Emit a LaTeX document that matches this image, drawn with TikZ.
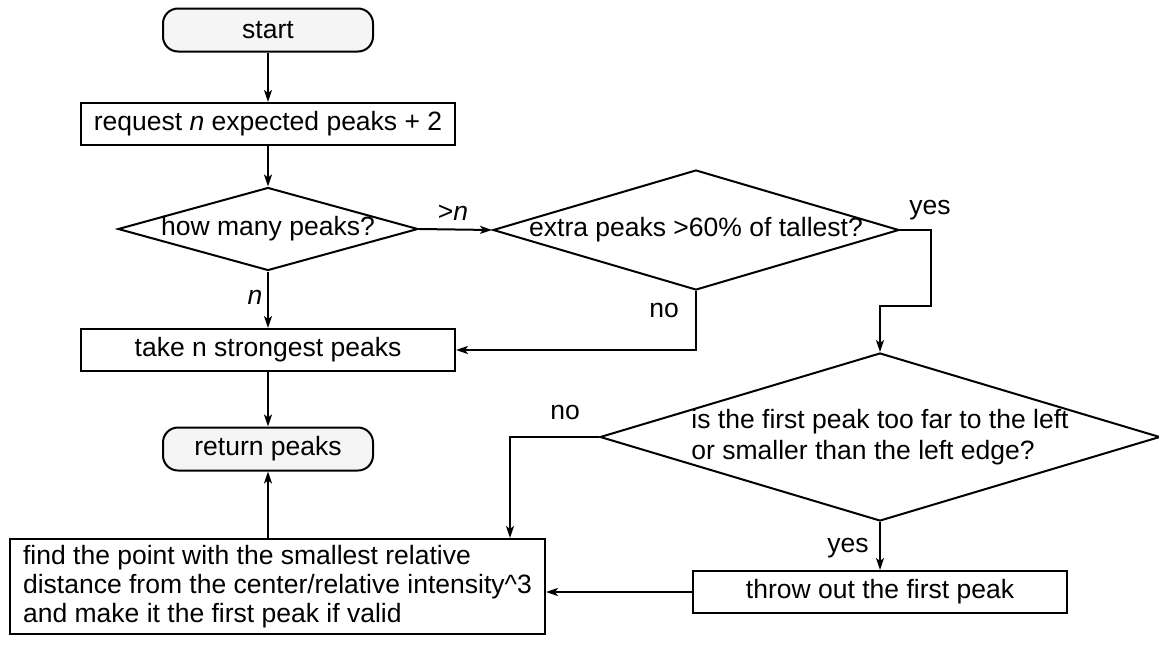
\documentclass[tikz,border=0pt]{standalone}
\usepackage{fontspec}
\setmainfont{Liberation Sans}
\usetikzlibrary{
  arrows.meta,
  positioning,
  shapes.geometric
}

\begin{document}
\begin{tikzpicture}[x=1pt,y=-1pt,
  >={Stealth[length=12pt,width=8pt,inset=3pt]},
  line width=2pt,
  font=\fontsize{26.5}{31.5}\selectfont,
  terminal/.style={draw,rounded corners=15pt,fill=gray!8,
    minimum width=210pt,minimum height=43pt,inner sep=0pt},
  procbox/.style={draw,minimum width=374pt,minimum height=42pt,inner sep=0pt},
  decision/.style={draw,diamond,inner sep=0pt}]
  % Fix the size of the whole picture.
  \useasboundingbox (0,0) rectangle (1159,648);

  % The start and the first request, in the left column.
  \node [terminal] (start) at (268,30) {start};
  \node [procbox] (request) at (268,124) {request \textit{n} expected peaks + 2};

  % The first question, and the one to its right. The text is
  % put in as a label, so that the diamond keeps its own size.
  \node [decision,minimum width=300pt,minimum height=83pt,
    label=center:{how many peaks?}] (count) at (268,229) {};
  \node [decision,minimum width=406pt,minimum height=120pt,
    label=center:{extra peaks >60\% of tallest?}] (extra) at (696,230) {};

  % Keep the strongest peaks, and hand them back.
  \node [procbox] (take) at (268,350) {take n strongest peaks};
  \node [terminal] (return) at (268,449) {return peaks};

  % The question about the first peak, and what follows it.
  \node [decision,minimum width=560pt,minimum height=168pt,
    label={[align=left]center:is the first peak too far to the left\\
      or smaller than the left edge?}] (check) at (880,437) {};
  \node [procbox] (throw) at (880,592) {throw out the first peak};
  \node [draw,align=left,minimum width=535pt,minimum height=95pt,
    inner sep=0pt,font=\fontsize{26.5}{29}\selectfont] (find) at (277.5,586.5)
    {find the point with the smallest relative\\
     distance from the center/relative intensity\textasciicircum3\\
     and make it the first peak if valid};

  % The texts on the arrows.
  \node (morelbl) at (453,213) {>\textit{n}};
  \node (eqlbl) at (255,297) {\textit{n}};
  \node (yeslbl) at (930,210) {yes};
  \node (nolbl) at (664,310) {no};
  \node (checknolbl) at (565,412) {no};
  \node (checkyeslbl) at (848,548) {yes};

  % Bends of the connectors that go round.
  \coordinate (yesbend) at (931,306);
  \coordinate (nodrop) at (510,437);

  % The arrows.
  \draw [->] (start) -- (request);
  \draw [->] (request) -- (count);
  \draw [->] (count.east) -- (extra.west);
  \draw [->] (count) -- (take);
  \draw [->] (extra.south) |- (take.east);
  \draw [->] (extra.east) -| (yesbend) -| (check.north);
  \draw [->] (take) -- (return);
  \draw [->] (check.west) -- (nodrop) -- (nodrop |- find.north);
  \draw [->] (check.south) -- (throw.north);
  \draw [->] (throw.west) -- (throw.west -| find.east);
  \draw [->] (find.north -| return.south) -- (return.south);
\end{tikzpicture}
\end{document}
